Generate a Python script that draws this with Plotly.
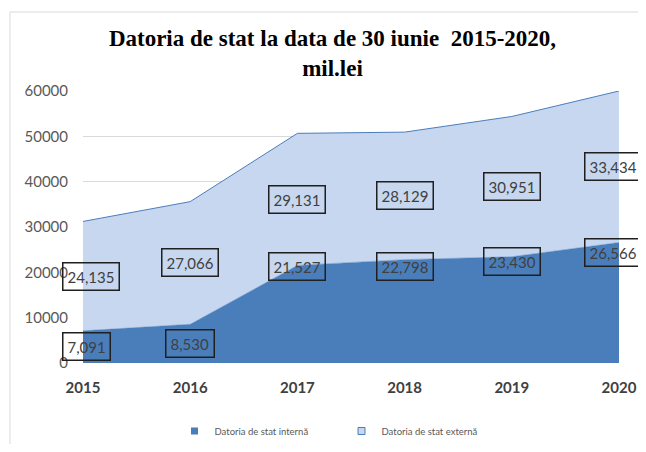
import plotly.graph_objects as go

years = [2015, 2016, 2017, 2018, 2019, 2020]
internal_debt = [7091, 8530, 21527, 22798, 23430, 26566]
external_debt = [24135, 27066, 29131, 28129, 30951, 33434]
series_names = ["Datoria de stat internă", "Datoria de stat externă"]
title_text = "<b>Datoria de stat la data de 30 iunie&nbsp; 2015-2020,<br>mil.lei</b>"

# label anchors for the internal series (as placed in the source chart)
internal_label_y = [internal_debt[0] / 2, internal_debt[1] / 2, 21300, 21300, 22400, 24400]

DARK = "#4a7ebb"
LIGHT = "#c6d7ef"
FONT = "Lato"
W, H = 630, 436
L, R, T, B = 75, 19, 83, 81

fig = go.Figure()
fig.add_trace(go.Scatter(x=years, y=internal_debt, stackgroup="one", mode="lines",
                         line=dict(color=DARK, width=0.5), fillcolor=DARK,
                         name=series_names[0], showlegend=False, hoverinfo="skip"))
fig.add_trace(go.Scatter(x=years, y=external_debt, stackgroup="one", mode="lines",
                         line=dict(color=DARK, width=1), fillcolor=LIGHT,
                         name=series_names[1], showlegend=False, hoverinfo="skip"))
# legend entries (square markers)
fig.add_trace(go.Scatter(x=[None], y=[None], mode="markers", name=series_names[0],
                         marker=dict(symbol="square", size=7, color=DARK)))
fig.add_trace(go.Scatter(x=[None], y=[None], mode="markers", name=series_names[1],
                         marker=dict(symbol="square", size=7, color=LIGHT,
                                     line=dict(color=DARK, width=1))))

annotations = []
n = len(years)
for i, yr in enumerate(years):
    first, last = (i == 0), (i == n - 1)
    common = dict(x=yr, xref="x", yref="y", showarrow=False,
                  font=dict(family=FONT, size=15, color="#404040"),
                  bordercolor="#1f1f1f", borderwidth=1.5, borderpad=4,
                  bgcolor="rgba(0,0,0,0)",
                  xanchor="left" if first else "center",
                  xshift=-21 if first else (-6 if last else 0))
    annotations.append(dict(common, y=internal_label_y[i], text=f"{internal_debt[i]:,}"))
    annotations.append(dict(common, y=internal_debt[i] + external_debt[i] / 2,
                            text=f"{external_debt[i]:,}"))

pw, ph = W - L - R, H - T - B
fig.update_layout(
    width=W, height=H,
    margin=dict(l=L, r=R, t=T, b=B, autoexpand=False),
    paper_bgcolor="white", plot_bgcolor="white",
    title=dict(text=title_text, x=324.5 / W, xanchor="center", xref="container",
               y=1 - 38 / H, yanchor="top", yref="container",
               font=dict(family="Liberation Serif", size=23, color="#000000")),
    xaxis=dict(range=[2015, 2020], tickvals=years, showgrid=False, zeroline=False,
               showline=False, ticks="", ticklabelstandoff=14, automargin=False,
               tickfont=dict(family=FONT, size=15, color="#404040", weight="bold")),
    yaxis=dict(range=[0, 60000], dtick=10000, showgrid=True, gridcolor="#d9d9d9",
               gridwidth=1, zeroline=False, showline=False, ticks="", automargin=False,
               ticklabelstandoff=14, tickformat="d",
               tickfont=dict(family=FONT, size=15, color="#595959")),
    legend=dict(orientation="h", xref="container", yref="container", traceorder="normal",
                x=333.5 / W, xanchor="center", y=1 - 423 / H, yanchor="middle",
                font=dict(family=FONT, size=9.5, color="#595959"), itemwidth=30,
                entrywidth=122, entrywidthmode="pixels",
                bgcolor="rgba(0,0,0,0)"),
    annotations=annotations,
    shapes=[dict(type="rect", xref="paper", yref="paper",
                 x0=(2 - L) / pw, x1=1.3, y0=-0.5, y1=(T + ph - 4) / ph,
                 line=dict(color="#d9d9d9", width=1), fillcolor="rgba(0,0,0,0)",
                 layer="below")],
    showlegend=True,
)

fig.write_html("out.html")
